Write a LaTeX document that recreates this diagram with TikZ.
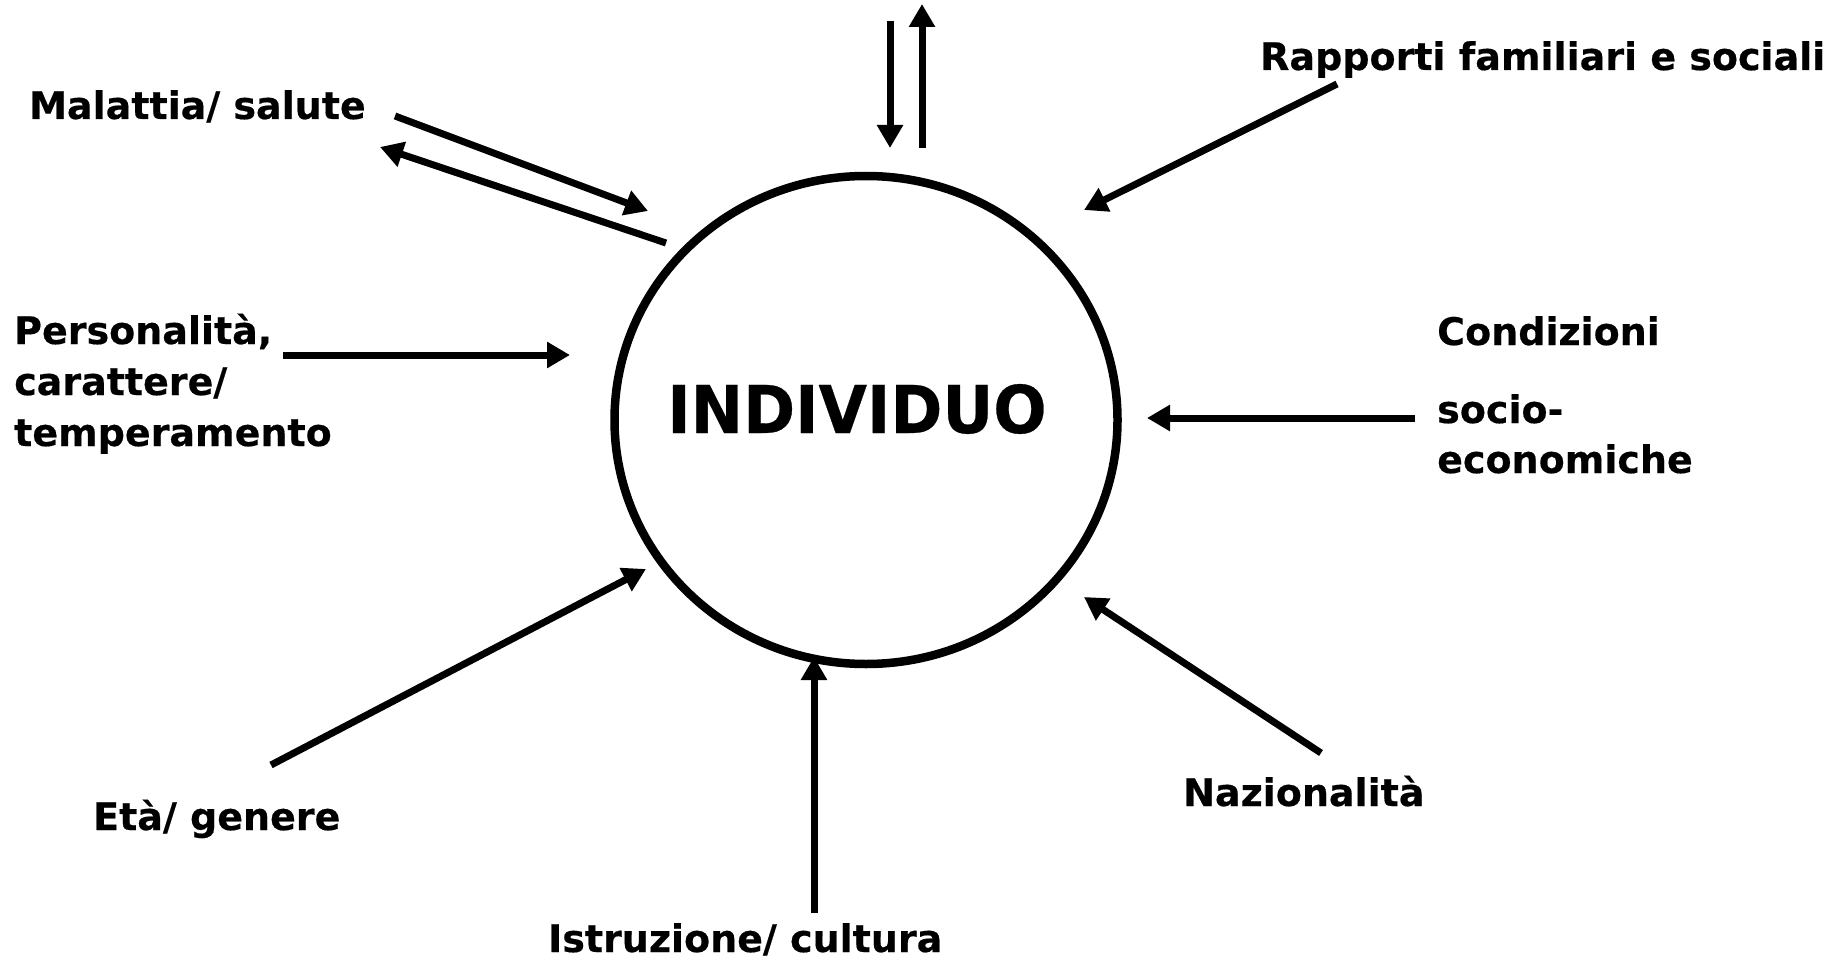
\documentclass[tikz,border=0pt]{standalone}
\usepackage{fontspec}
\setmainfont{DejaVu Sans}[FakeBold=0.4]
\newfontfamily\indfont{DejaVu Sans}[FakeStretch=0.95,FakeBold=0.4]
\usetikzlibrary{arrows.meta,shapes.geometric}
\begin{document}
\begin{tikzpicture}[x=1pt,y=-1pt,
  lbl/.style={font=\fontsize{38}{51}\selectfont\bfseries, inner sep=0pt, anchor=base west, align=left},
  conn/.style={line width=7pt, -{Triangle[length=23pt,width=25pt]}},
  ring/.style={line width=8.5pt}]
\useasboundingbox (0,0) rectangle (1831,960);
\node[ring, draw, ellipse, minimum width=503pt, minimum height=488pt, inner sep=0pt] (ind) at (866,420) {};
\node[font=\indfont\fontsize{66}{66}\selectfont\bfseries, inner sep=0pt, anchor=base] (indt) at (857,433) {INDIVIDUO};
% labels
\node[lbl] (mal) at (29,119) {Malattia/ salute};
\node[lbl] (rap) at (1260,70) {Rapporti familiari e sociali};
\node[lbl] (per) at (14,446) {Personalità,\\carattere/\\temperamento};
\node[lbl] (con) at (1437,345) {Condizioni};
\node[lbl, font=\fontsize{38}{50}\selectfont\bfseries] (soc) at (1437,473) {socio-\\economiche};
\node[lbl] (eta) at (93,830) {Età/ genere};
\node[lbl] (ist) at (548,952) {Istruzione/ cultura};
\node[lbl] (naz) at (1183,806) {Nazionalità};
% arrow end points
\coordinate (td1) at (890,21);  \coordinate (td2) at (890,148);
\coordinate (tu1) at (922,148); \coordinate (tu2) at (922,4);
\coordinate (m1) at (395,116);  \coordinate (m2) at (648,211);
\coordinate (m3) at (666,243);  \coordinate (m4) at (380,147);
\coordinate (r1) at (1337,84);  \coordinate (r2) at (1084,210);
\coordinate (p1) at (283,355);  \coordinate (p2) at (570,355);
\coordinate (c1) at (1415,418); \coordinate (c2) at (1147,418);
\coordinate (e1) at (271,765);  \coordinate (e2) at (646,569);
\coordinate (i1) at (814,913);  \coordinate (i2) at (814,657);
\coordinate (n1) at (1321,753); \coordinate (n2) at (1084,597);
\draw[conn] (td1) -- (td2);
\draw[conn] (tu1) -- (tu2);
\draw[conn] (m1) -- (m2);
\draw[conn] (m3) -- (m4);
\draw[conn] (r1) -- (r2);
\draw[conn] (p1) -- (p2);
\draw[conn] (c1) -- (c2);
\draw[conn] (e1) -- (e2);
\draw[conn] (i1) -- (i2);
\draw[conn] (n1) -- (n2);
\end{tikzpicture}
\end{document}
